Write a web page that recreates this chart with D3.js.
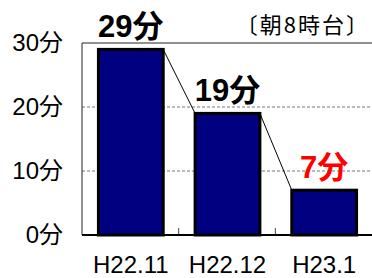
<!DOCTYPE html>
<html>
<head>
<meta charset="utf-8">
<script src="https://cdn.jsdelivr.net/npm/d3@7"></script>
<style>
  body { margin: 0; background: #fff; }
  text { font-family: "Liberation Sans", Arial, "Noto Sans CJK JP", sans-serif; }
</style>
</head>
<body>
<div id="chart-area"></div>
<script>
// data
var months = ["H22.11", "H22.12", "H23.1"];
var minutes = [29, 19, 7];
var labelColors = ["#000", "#000", "#ff0000"];
var yTicks = [0, 10, 20, 30];

var W = 372, H = 278;
var margin = { left: 82, right: -1, top: 43, bottom: 43 };
var width = W - margin.left - margin.right;
var height = H - margin.top - margin.bottom;

var svg = d3.select("#chart-area").append("svg")
  .attr("width", W)
  .attr("height", H);

var g = svg.append("g")
  .attr("transform", `translate(${margin.left}, ${margin.top})`);

var x = d3.scaleBand()
  .domain(months)
  .range([0, width])
  .paddingInner(0.33)
  .paddingOuter(0.17);

var y = d3.scaleLinear()
  .domain([0, 30])
  .range([height, 0]);

// gridlines
g.selectAll(".grid")
  .data(yTicks.filter(d => d > 0 && d < 30))
  .enter().append("line")
  .attr("x1", 0).attr("x2", width)
  .attr("y1", d => y(d)).attr("y2", d => y(d))
  .attr("stroke", "#777")
  .attr("stroke-width", 1)
  .attr("stroke-dasharray", "3,2");

// top border
g.append("line")
  .attr("x1", 0).attr("x2", width)
  .attr("y1", y(30)).attr("y2", y(30))
  .attr("stroke", "#222").attr("stroke-width", 1);

// left axis line
g.append("line")
  .attr("x1", 0).attr("x2", 0)
  .attr("y1", y(30)).attr("y2", height)
  .attr("stroke", "#222").attr("stroke-width", 1);

// y tick labels
g.selectAll(".ylab")
  .data(yTicks)
  .enter().append("text")
  .attr("x", -19)
  .attr("y", d => y(d) + 8)
  .attr("text-anchor", "end")
  .attr("font-size", "24px")
  .text(d => d + "分");

// x ticks between categories
var step = x.step();
g.selectAll(".xtick")
  .data([1, 2])
  .enter().append("line")
  .attr("x1", d => d * step).attr("x2", d => d * step)
  .attr("y1", height).attr("y2", height - 7)
  .attr("stroke", "#444");

// connector lines
var pairs = d3.pairs(d3.range(months.length));
g.selectAll(".conn")
  .data(pairs)
  .enter().append("line")
  .attr("x1", d => x(months[d[0]]) + x.bandwidth())
  .attr("y1", d => y(minutes[d[0]]))
  .attr("x2", d => x(months[d[1]]))
  .attr("y2", d => y(minutes[d[1]]))
  .attr("stroke", "#000")
  .attr("stroke-width", 1);

// bars
g.selectAll("rect")
  .data(minutes)
  .enter().append("rect")
  .attr("x", (d, i) => x(months[i]))
  .attr("y", d => y(d))
  .attr("width", x.bandwidth())
  .attr("height", d => height - y(d))
  .attr("fill", "#000080")
  .attr("stroke", "#000")
  .attr("stroke-width", 3);

// bottom axis line
g.append("line")
  .attr("x1", 0).attr("x2", width)
  .attr("y1", height).attr("y2", height)
  .attr("stroke", "#000").attr("stroke-width", 2);

// value labels
g.selectAll(".vlab")
  .data(minutes)
  .enter().append("text")
  .attr("x", (d, i) => x(months[i]) + x.bandwidth() / 2)
  .attr("y", d => y(d) - 12)
  .attr("text-anchor", "middle")
  .attr("font-size", "31px")
  .attr("font-weight", "bold")
  .attr("fill", (d, i) => labelColors[i])
  .text(d => d + "分");

// x labels
g.selectAll(".xlab")
  .data(months)
  .enter().append("text")
  .attr("x", d => x(d) + x.bandwidth() / 2)
  .attr("y", height + 38)
  .attr("text-anchor", "middle")
  .attr("font-size", "24px")
  .text(d => d);

// note
svg.append("text")
  .attr("x", 370)
  .attr("y", 33)
  .attr("text-anchor", "end")
  .attr("font-size", "22px")
  .style("letter-spacing", "2px")
  .style("font-family", "'Noto Sans CJK JP', sans-serif")
  .text("〔朝8時台〕");
</script>
</body>
</html>
